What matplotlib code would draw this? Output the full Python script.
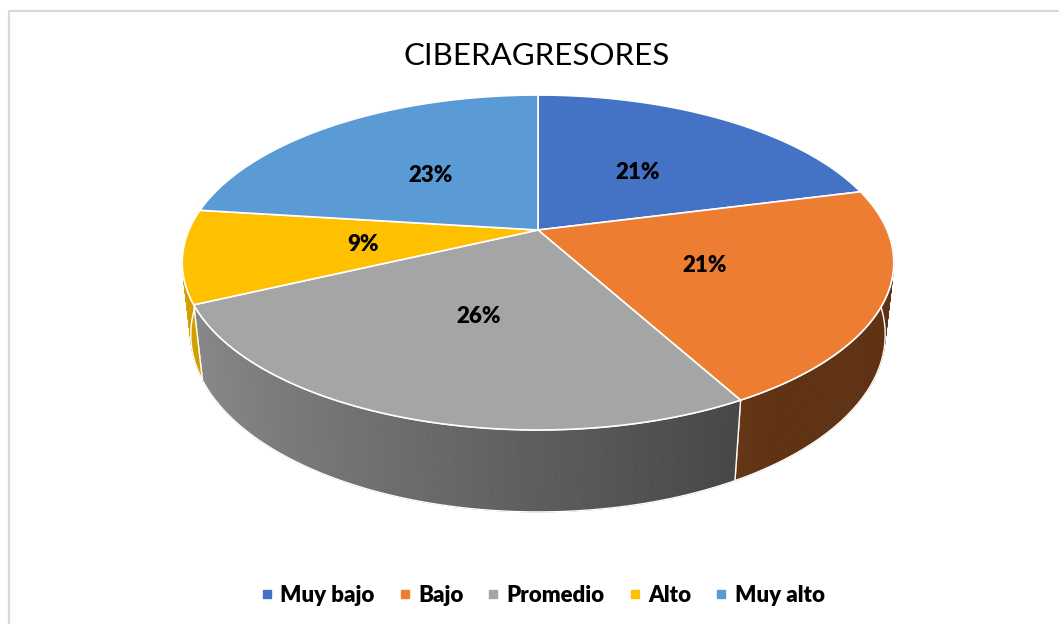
import numpy as np
import matplotlib.pyplot as plt
from matplotlib.lines import Line2D

# data
categories = ['Muy bajo', 'Bajo', 'Promedio', 'Alto', 'Muy alto']
values = [21, 21, 26, 9, 23]
labels = ['21%', '21%', '26%', '9%', '23%']
colors = ['#4472C4', '#ED7D31', '#A5A5A5', '#FFC000', '#5B9BD5']
title = 'CIBERAGRESORES'

# 3d view of the pie (disk radius 1, top at z=0, bottom at z=-h)
elev = np.radians(27.5)
dist = 4.57
h = 0.235
cx, cy, scale = 538, 230, 349

def project(x, y, z):
    w = dist + y*np.cos(elev) - z*np.sin(elev)
    u = x*dist/w
    v = (y*np.sin(elev) + z*np.cos(elev))*dist/w
    return cx + scale*u, cy - scale*v

def shade(u):
    # side walls get darker towards the right
    return np.interp(u, [-1.0, 0.58, 1.0], [0.85, 0.40, 0.40])

def rgb(c):
    c = c.lstrip('#')
    return np.array([int(c[i:i+2], 16) for i in (0, 2, 4)])/255.0

fig = plt.figure(figsize=(10.59, 6.24), dpi=100)
ax = fig.add_axes([0, 0, 1, 1])
ax.set_xlim(0, 1059)
ax.set_ylim(624, 0)
ax.axis('off')

# chart border (only top/left visible)
ax.plot([9, 9, 1059], [624, 11, 11], color='#D9D9D9', lw=1.6, solid_capstyle='butt')

# slice angles, clockwise from 12 o'clock
total = float(sum(values))
ends = 90 - 360*np.cumsum(values)/total
starts = np.concatenate([[90], ends[:-1]])

# side walls (front half only)
for a0, a1, col in zip(starts, ends, colors):
    lo, hi = max(a1, -180), min(a0, 0)
    if hi <= lo:
        continue
    ts = np.radians(np.linspace(lo, hi, 120))
    base = rgb(col)
    for i in range(len(ts) - 1):
        t0, t1 = ts[i], ts[i+1]
        xs = [np.cos(t0), np.cos(t1), np.cos(t1), np.cos(t0)]
        ys = [np.sin(t0), np.sin(t1), np.sin(t1), np.sin(t0)]
        zs = [0, 0, -h, -h]
        px, py = project(np.array(xs), np.array(ys), np.array(zs))
        um = np.cos((t0 + t1)/2)
        c = np.clip(base*shade(um), 0, 1)
        ax.fill(px, py, color=c, lw=0.6)
    # outline of the wall
    xs = np.concatenate([np.cos(ts), np.cos(ts[::-1])])
    ys = np.concatenate([np.sin(ts), np.sin(ts[::-1])])
    zs = np.concatenate([np.zeros(len(ts)), -h*np.ones(len(ts))])
    px, py = project(xs, ys, zs)
    ax.fill(px, py, facecolor='none', edgecolor='white', lw=1.0)

# top face slices
for a0, a1, col in zip(starts, ends, colors):
    ts = np.radians(np.linspace(a0, a1, 200))
    xs = np.concatenate([[0], np.cos(ts)])
    ys = np.concatenate([[0], np.sin(ts)])
    px, py = project(xs, ys, np.zeros(len(xs)))
    ax.fill(px, py, facecolor=col, edgecolor='white', lw=1.2)

# percent labels at half radius
for a0, a1, lab in zip(starts, ends, labels):
    m = np.radians((a0 + a1)/2)
    px, py = project(0.5*np.cos(m), 0.5*np.sin(m), 0)
    ax.text(px, py + 2, lab, ha='center', va='center', fontsize=16,
            fontweight='heavy', family='Lato', color='black')

ax.text(537, 56, title, ha='center', va='center', fontsize=22.5, family='Lato', color='black')

handles = [Line2D([], [], marker='s', ls='none', markersize=6, color=c) for c in colors]
leg = ax.legend(handles, categories, loc='center', bbox_to_anchor=(542/1059, 1 - 595/624),
                ncol=5, frameon=False, handlelength=0.7, handletextpad=0.25,
                columnspacing=1.0, prop={'family': 'Lato', 'weight': 'heavy', 'size': 16})

fig.savefig('out.png', dpi=100)
